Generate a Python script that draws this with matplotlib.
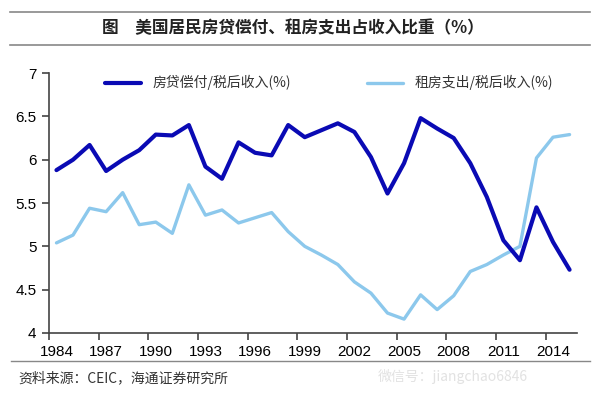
import matplotlib
matplotlib.use('Agg')
import matplotlib.pyplot as plt
from matplotlib.ticker import FixedLocator, FuncFormatter

plt.rcParams['font.family'] = ['Liberation Sans', 'Noto Sans CJK SC', 'DejaVu Sans']

CJK = ['Noto Sans CJK SC', 'DejaVu Sans']

years = list(range(1984, 2016))
mortgage = [5.88, 6.00, 6.17, 5.87, 6.00, 6.11, 6.29, 6.28, 6.40, 5.92,
            5.78, 6.20, 6.08, 6.05, 6.40, 6.26, 6.34, 6.42, 6.32, 6.03,
            5.61, 5.96, 6.48, 6.36, 6.25, 5.96, 5.57, 5.07, 4.84, 5.45,
            5.05, 4.73]
rent = [5.04, 5.13, 5.44, 5.40, 5.62, 5.25, 5.28, 5.15, 5.71, 5.36,
        5.42, 5.27, 5.33, 5.39, 5.17, 5.00, 4.90, 4.79, 4.59, 4.46,
        4.23, 4.16, 4.44, 4.27, 4.43, 4.71, 4.79, 4.90, 5.00, 6.02,
        6.26, 6.29]

label_years = [1984, 1987, 1990, 1993, 1996, 1999, 2002, 2005, 2008, 2011, 2014]
y_ticks = [4, 4.5, 5, 5.5, 6, 6.5, 7]

title = '图　美国居民房贷偿付、租房支出占收入比重（%）'
source = '资料来源：CEIC，海通证券研究所'
names = ['房贷偿付/税后收入(%)', '租房支出/税后收入(%)']

fig = plt.figure(figsize=(6.0, 3.95), dpi=100)
ax = fig.add_axes([0.0817, 0.157, 0.88, 0.658])

ax.plot(years, mortgage, color='#0a0ab4', lw=3.0, solid_joinstyle='round',
        solid_capstyle='round', label=names[0], zorder=3)
ax.plot(years, rent, color='#8cc8ec', lw=2.4, solid_joinstyle='round',
        solid_capstyle='round', label=names[1], zorder=2)

ax.set_xlim(1983.55, 2015.45)
ax.set_ylim(4, 7)

# labels sit on the years, tick marks sit between categories
ax.xaxis.set_major_locator(FixedLocator(label_years))
ax.xaxis.set_minor_locator(FixedLocator([y - 0.45 for y in label_years]))
ax.tick_params(axis='x', which='major', length=0, pad=9, labelsize=11)
ax.tick_params(axis='x', which='minor', length=5, width=1.2, color='#444444', direction='out')
ax.yaxis.set_major_locator(FixedLocator(y_ticks))
ax.yaxis.set_major_formatter(FuncFormatter(lambda v, p: '%g' % v))
ax.tick_params(axis='y', length=5, width=1.2, color='#444444', labelsize=11, pad=4)

for side in ['top', 'right']:
    ax.spines[side].set_visible(False)
for side in ['left', 'bottom']:
    ax.spines[side].set_color('#444444')
    ax.spines[side].set_linewidth(1.2)

leg = ax.legend(loc='upper center', bbox_to_anchor=(0.53, 1.04), ncol=2, frameon=False,
                handlelength=2.6, columnspacing=5.5, prop={'family': CJK, 'size': 10})
for t in leg.get_texts():
    t.set_color('#333333')

# header band
fig.add_artist(plt.Line2D([0.017, 0.983], [1 - 12 / 395, 1 - 12 / 395], color='#888888', lw=1.2))
fig.add_artist(plt.Line2D([0.017, 0.983], [1 - 45 / 395, 1 - 45 / 395], color='#888888', lw=1.2))
fig.text(0.488, 1 - 28 / 395, title, ha='center', va='center', family=CJK,
         fontsize=12, fontweight='bold', color='#222222')

# footer
fig.add_artist(plt.Line2D([0.018, 0.983], [1 - 361 / 395, 1 - 361 / 395], color='#888888', lw=1.0))
fig.text(0.03, 1 - 378 / 395, source, ha='left', va='center', family=CJK,
         fontsize=10, color='#333333')
fig.text(0.63, 1 - 377 / 395, '微信号：jiangchao6846', ha='left', va='center', family=CJK,
         fontsize=10, color='#e2e2e2')

fig.savefig('out.png', dpi=100, facecolor='white')
